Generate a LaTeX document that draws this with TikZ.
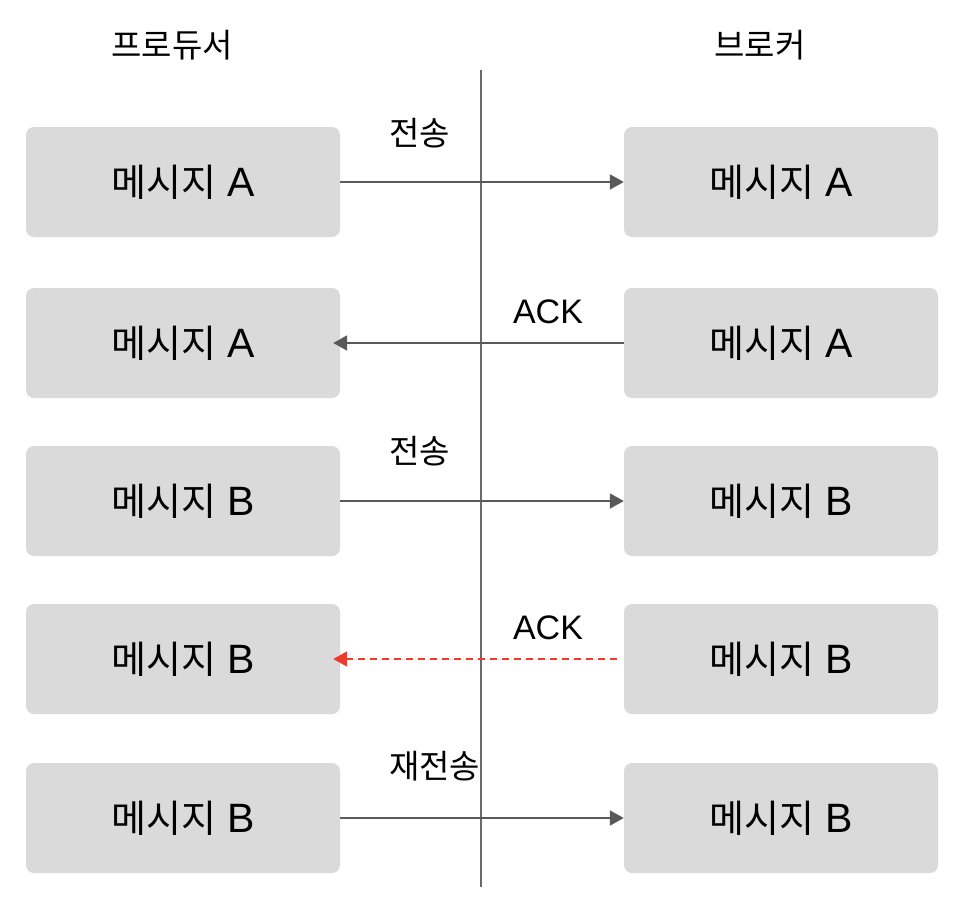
\documentclass[tikz,border=0pt]{standalone}
\usepackage{fontspec}
\setmainfont{Liberation Sans}
\newfontfamily\kr{Noto Sans CJK KR}
\usetikzlibrary{arrows.meta}
\usetikzlibrary{positioning}

\definecolor{boxgray}{HTML}{DADADA}
\definecolor{linegray}{HTML}{595959}
\definecolor{ackred}{HTML}{F03A2C}

\newcommand{\msgtext}[1]{{\kr\fontsize{38}{40}\selectfont 메시지} #1}

\begin{document}
\begin{tikzpicture}[x=1pt,y=-1pt]
    \tikzstyle{msg}=[fill=boxgray,draw=none,rounded corners=8pt,minimum width=314pt,minimum height=110pt,font=\fontsize{41}{44}\selectfont]
    \tikzstyle{lbl}=[font=\fontsize{34}{36}\selectfont,inner sep=0pt]
    \tikzstyle{wire}=[line width=2pt,draw=linegray]
    \tikzstyle{send}=[wire,-{Triangle[length=14pt,width=15pt]}]

    \useasboundingbox (0,0) rectangle (966,916);

    \node[lbl] (prod) at (172,45) {\kr\fontsize{33}{35}\selectfont 프로듀서} ;
    \node[lbl] (brok) at (760,45) {\kr\fontsize{33}{35}\selectfont 브로커} ;

    \coordinate (top) at (481,70) ;
    \coordinate (bot) at (481,887) ;
    \draw[wire,draw=linegray!90] (top) -- (bot) ;

    % producer side
    \node[msg] (p1) at (183,182) {\msgtext{A}} ;
    \node[msg] (p2) at (183,343) {\msgtext{A}} ;
    \node[msg] (p3) at (183,501) {\msgtext{B}} ;
    \node[msg] (p4) at (183,659) {\msgtext{B}} ;
    \node[msg] (p5) at (183,818) {\msgtext{B}} ;

    % broker side
    \node[msg] (b1) at (781,182) {\msgtext{A}} ;
    \node[msg] (b2) at (781,343) {\msgtext{A}} ;
    \node[msg] (b3) at (781,501) {\msgtext{B}} ;
    \node[msg] (b4) at (781,659) {\msgtext{B}} ;
    \node[msg] (b5) at (781,818) {\msgtext{B}} ;

    \draw[send] (p1.east) -- (b1.west) ;
    \draw[send] (b2.west) -- ([xshift=-7pt]p2.east) ;
    \draw[send] (p3.east) -- (b3.west) ;
    \draw[send,draw=ackred,fill=ackred,dash pattern=on 7pt off 5pt] ([xshift=-7pt]b4.west) -- ([xshift=-7pt]p4.east) ;
    \draw[send] (p5.east) -- (b5.west) ;

    \node[lbl,anchor=west] (s1) at (389,133) {\kr\fontsize{33}{35}\selectfont 전송} ;
    \node[lbl] (a2) at (548,312) {ACK} ;
    \node[lbl,anchor=west] (s3) at (389,451) {\kr\fontsize{33}{35}\selectfont 전송} ;
    \node[lbl] (a4) at (548,628) {ACK} ;
    \node[lbl,anchor=west] (s5) at (389,766) {\kr\fontsize{33}{35}\selectfont 재전송} ;
\end{tikzpicture}
\end{document}
